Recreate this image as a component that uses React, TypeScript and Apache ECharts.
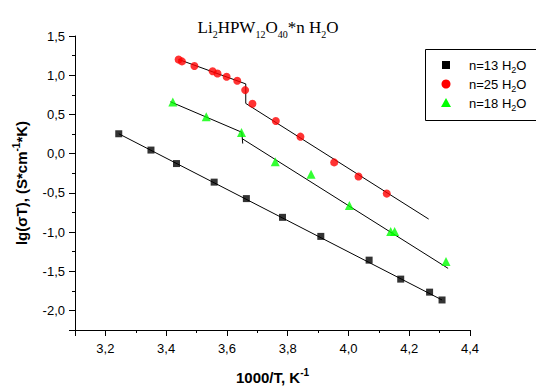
import React, { useEffect, useRef } from 'react';
import * as echarts from 'echarts';

// Measured points (1000/T, lg(sigma*T))
const n13X = [3.244, 3.350, 3.434, 3.558, 3.664, 3.783, 3.909, 4.068, 4.172, 4.267, 4.308];
const n13Y = [0.253, 0.045, -0.127, -0.364, -0.574, -0.813, -1.056, -1.359, -1.601, -1.767, -1.867];

const n25X = [3.441, 3.452, 3.493, 3.553, 3.569, 3.599, 3.634, 3.660, 3.684, 3.761, 3.842, 3.953, 4.033, 4.126];
const n25Y = [1.201, 1.176, 1.117, 1.051, 1.022, 0.980, 0.930, 0.810, 0.636, 0.415, 0.216, -0.112, -0.292, -0.510];

const n18X = [3.422, 3.532, 3.648, 3.759, 3.877, 4.003, 4.139, 4.152, 4.321];
const n18Y = [0.658, 0.469, 0.269, -0.105, -0.262, -0.661, -0.994, -0.994, -1.377];

// Fitted lines
const fit13X = [3.244, 4.308];
const fit13Y = [0.253, -1.867];
const fit25X = [3.441, 3.662, 3.662, 4.264];
const fit25Y = [1.201, 0.889, 0.640, -0.835];
const fit18aX = [3.414, 3.649, 3.652];
const fit18aY = [0.661, 0.272, 0.128];
const fit18bX = [3.650, 4.328];
const fit18bY = [0.191, -1.464];

const seriesNames = ['n=13 H2O', 'n=25 H2O', 'n=18 H2O'];
const legendLabels = ['n=13 H{s|2}O', 'n=25 H{s|2}O', 'n=18 H{s|2}O'];
const seriesColors = ['#000000', '#ff0000', '#00ff00'];

const zip = (xs: number[], ys: number[]) => xs.map((x, i) => [x, ys[i]]);

const FONT = 'Arial, "Liberation Sans", sans-serif';
const SERIF = '"Times New Roman", "Liberation Serif", serif';

const W = 536;
const H = 392;

export default function App() {
  const ref = useRef<HTMLDivElement>(null);
  useEffect(() => {
    if (!ref.current) return;
    const chart = echarts.init(ref.current, null, { renderer: 'svg', width: W, height: H });
    const isMult = (v: number, step: number) => Math.abs(v / step - Math.round(v / step)) < 1e-6;
    const fmt = (v: number, d: number) => v.toFixed(d).replace('.', ',');
    const fitLine = (xs: number[], ys: number[]) => ({
      type: 'line',
      data: zip(xs, ys),
      symbol: 'none',
      silent: true,
      lineStyle: { color: '#000', width: 1 },
      z: 3,
    });
    const nameStyle = {
      fontFamily: FONT,
      fontSize: 15,
      fontWeight: 'bold',
      color: '#000',
      lineHeight: 20,
      rich: {
        sup: { fontFamily: FONT, fontSize: 10, fontWeight: 'bold', lineHeight: 10, verticalAlign: 'top', color: '#000' },
      },
    };

    // Legend drawn as graphic: the box runs to the right edge, as in the reference
    const legX = 425.5;
    const legTop = 49.5;
    const legBottom = 120.5;
    const rowY = [65, 84, 103];
    const mx = 446;
    const tx = 469;
    const legendTexts = legendLabels.map((t, i) => ({
      type: 'text',
      x: tx,
      y: rowY[i],
      silent: true,
      style: {
        text: t,
        fill: '#000',
        fontFamily: FONT,
        fontSize: 13,
        lineHeight: 18,
        verticalAlign: 'middle',
        align: 'left',
        rich: {
          s: { fontFamily: FONT, fontSize: 9, lineHeight: 9, verticalAlign: 'bottom', fill: '#000' },
        },
      },
      z: 11,
    }));

    chart.setOption({
      animation: false,
      title: {
        text: 'Li{s|2}HPW{s|12}O{s|40}*n H{s|2}O',
        left: 'center',
        top: 10,
        textStyle: {
          fontFamily: SERIF,
          fontSize: 17,
          fontWeight: 'normal',
          color: '#000',
          lineHeight: 24,
          rich: {
            s: { fontFamily: SERIF, fontSize: 10, lineHeight: 10, verticalAlign: 'bottom', color: '#000' },
          },
        },
      },
      graphic: [
        {
          type: 'rect',
          silent: true,
          shape: { x: legX, y: legTop, width: W - legX, height: legBottom - legTop },
          style: { fill: '#fff', stroke: null },
          z: 10,
        },
        {
          type: 'polyline',
          silent: true,
          shape: {
            points: [
              [W, legTop],
              [legX, legTop],
              [legX, legBottom],
              [W, legBottom],
            ],
          },
          style: { stroke: '#000', lineWidth: 1, fill: null },
          z: 10,
        },
        {
          type: 'rect',
          silent: true,
          shape: { x: mx - 4, y: rowY[0] - 4, width: 8, height: 8 },
          style: { fill: seriesColors[0] },
          z: 11,
        },
        {
          type: 'circle',
          silent: true,
          shape: { cx: mx, cy: rowY[1], r: 4.5 },
          style: { fill: seriesColors[1] },
          z: 11,
        },
        {
          type: 'polygon',
          silent: true,
          shape: {
            points: [
              [mx, rowY[2] - 5],
              [mx + 5, rowY[2] + 4],
              [mx - 5, rowY[2] + 4],
            ],
          },
          style: { fill: seriesColors[2] },
          z: 11,
        },
        ...legendTexts,
      ],
      grid: { left: 75, right: 66, top: 36, bottom: 55 },
      xAxis: [
        {
          type: 'value',
          position: 'bottom',
          min: 3.1,
          max: 4.4,
          splitNumber: 6,
          name: '1000/T, K{sup|-1}',
          nameLocation: 'middle',
          nameGap: 37,
          nameTextStyle: nameStyle,
          axisLine: { onZero: false, lineStyle: { color: '#000', width: 1 } },
          axisTick: { inside: false, length: 6, lineStyle: { color: '#000' } },
          splitLine: { show: false },
          axisLabel: {
            fontFamily: FONT,
            fontSize: 13,
            color: '#000',
            margin: 12,
            formatter: (v: number) => (isMult(v, 0.2) ? fmt(v, 1) : ''),
          },
        },
        {
          type: 'value',
          position: 'bottom',
          min: 3.1,
          max: 4.4,
          interval: 0.1,
          axisLine: { show: false, onZero: false },
          axisTick: { show: true, length: 3, lineStyle: { color: '#000' } },
          axisLabel: { show: false },
          splitLine: { show: false },
        },
      ],
      yAxis: [
        {
          type: 'value',
          position: 'left',
          min: -2.25,
          max: 1.5,
          splitNumber: 7,
          name: 'lg(σT), (S*cm{sup|-1}*K)',
          nameLocation: 'middle',
          nameRotate: 90,
          nameGap: 41,
          nameTextStyle: nameStyle,
          axisLine: { show: true, onZero: false, lineStyle: { color: '#000', width: 1 } },
          axisTick: { show: true, length: 6, lineStyle: { color: '#000' } },
          splitLine: { show: false },
          axisLabel: {
            fontFamily: FONT,
            fontSize: 13,
            color: '#000',
            margin: 10,
            formatter: (v: number) => (isMult(v, 0.5) ? fmt(v, 1) : ''),
          },
        },
        {
          type: 'value',
          position: 'left',
          min: -2.25,
          max: 1.5,
          interval: 0.25,
          axisLine: { show: false, onZero: false },
          axisTick: { show: true, length: 3, lineStyle: { color: '#000' } },
          axisLabel: { show: false },
          splitLine: { show: false },
        },
      ],
      series: [
        {
          name: seriesNames[0],
          type: 'scatter',
          symbol: 'rect',
          symbolSize: 7,
          itemStyle: { color: seriesColors[0] },
          data: zip(n13X, n13Y),
          z: 4,
        },
        {
          name: seriesNames[1],
          type: 'scatter',
          symbol: 'circle',
          symbolSize: 8,
          itemStyle: { color: seriesColors[1] },
          data: zip(n25X, n25Y),
          z: 4,
        },
        {
          name: seriesNames[2],
          type: 'scatter',
          symbol: 'triangle',
          symbolSize: 9,
          itemStyle: { color: seriesColors[2] },
          data: zip(n18X, n18Y),
          z: 4,
        },
        fitLine(fit13X, fit13Y),
        fitLine(fit25X, fit25Y),
        fitLine(fit18aX, fit18aY),
        fitLine(fit18bX, fit18bY),
      ],
    });
    return () => chart.dispose();
  }, []);
  return (
    <div
      ref={ref}
      style={{ position: 'fixed', left: 0, top: 0, width: W, height: H, overflow: 'hidden', background: '#fff' }}
    />
  );
}
